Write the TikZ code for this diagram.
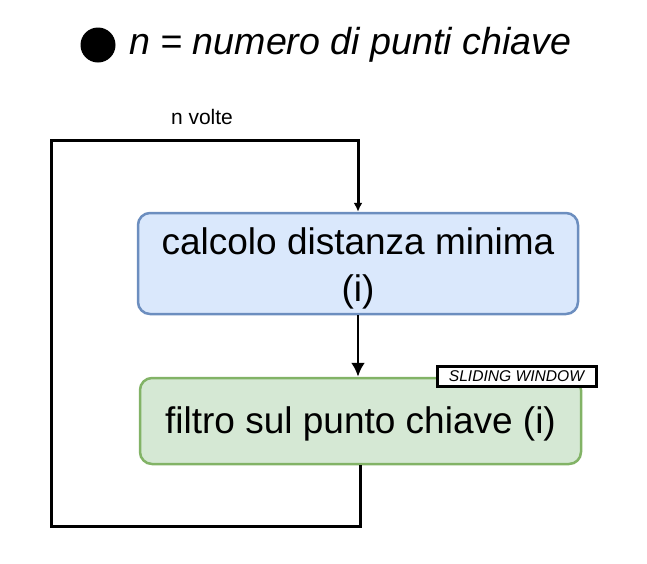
\documentclass[tikz,border=0pt]{standalone}
\usepackage{fontspec}
\setmainfont{Liberation Sans}
\usetikzlibrary{arrows.meta}
\definecolor{bluefill}{HTML}{DAE8FC}
\definecolor{blueline}{HTML}{6C8EBF}
\definecolor{greenfill}{HTML}{D5E8D4}
\definecolor{greenline}{HTML}{82B366}
\begin{document}
\begin{tikzpicture}[x=1pt,y=-1pt,
  stepbox/.style={draw,rounded corners=12pt,line width=2.5pt,align=center,inner sep=0pt,font=\fontsize{37}{47}\selectfont},
  flow/.style={->,>={Latex[length=14pt,width=14pt]},line width=2.8pt},
  loopline/.style={->,>={Latex[length=9pt,width=9pt]},line width=3pt}]
\useasboundingbox (0,0) rectangle (647,563);
\node[circle,fill=black,minimum size=35pt,inner sep=0pt] (dot) at (98,45) {};
\node[anchor=west,inner sep=0pt,font=\fontsize{37.6}{44}\selectfont\itshape] (title) at (129,45) {n = numero di punti chiave};
\node[font=\fontsize{21}{21}\selectfont] (rep) at (202,117) {n volte};
\node[stepbox,fill=bluefill,draw=blueline,minimum width=440pt,minimum height=101pt] (dist) at (358,263.5) {\rule{0pt}{37pt}calcolo distanza minima\\(i)};
\node[stepbox,fill=greenfill,draw=greenline,minimum width=441pt,minimum height=86pt] (filt) at (360.5,421) {\rule{0pt}{33pt}filtro sul punto chiave (i)};
\coordinate (bl) at (51,526);
\coordinate (tr) at (358,140);
\draw[flow] (dist.south) -- (dist.south |- filt.north);
\draw[loopline] (filt.south) |- (bl) |- (tr) -- (dist);
\node[draw,fill=white,line width=3pt,minimum width=159pt,minimum height=20pt,inner sep=0pt,font=\fontsize{15.6}{15}\selectfont\itshape] (win) at (516.5,376) {SLIDING WINDOW};
\end{tikzpicture}
\end{document}
